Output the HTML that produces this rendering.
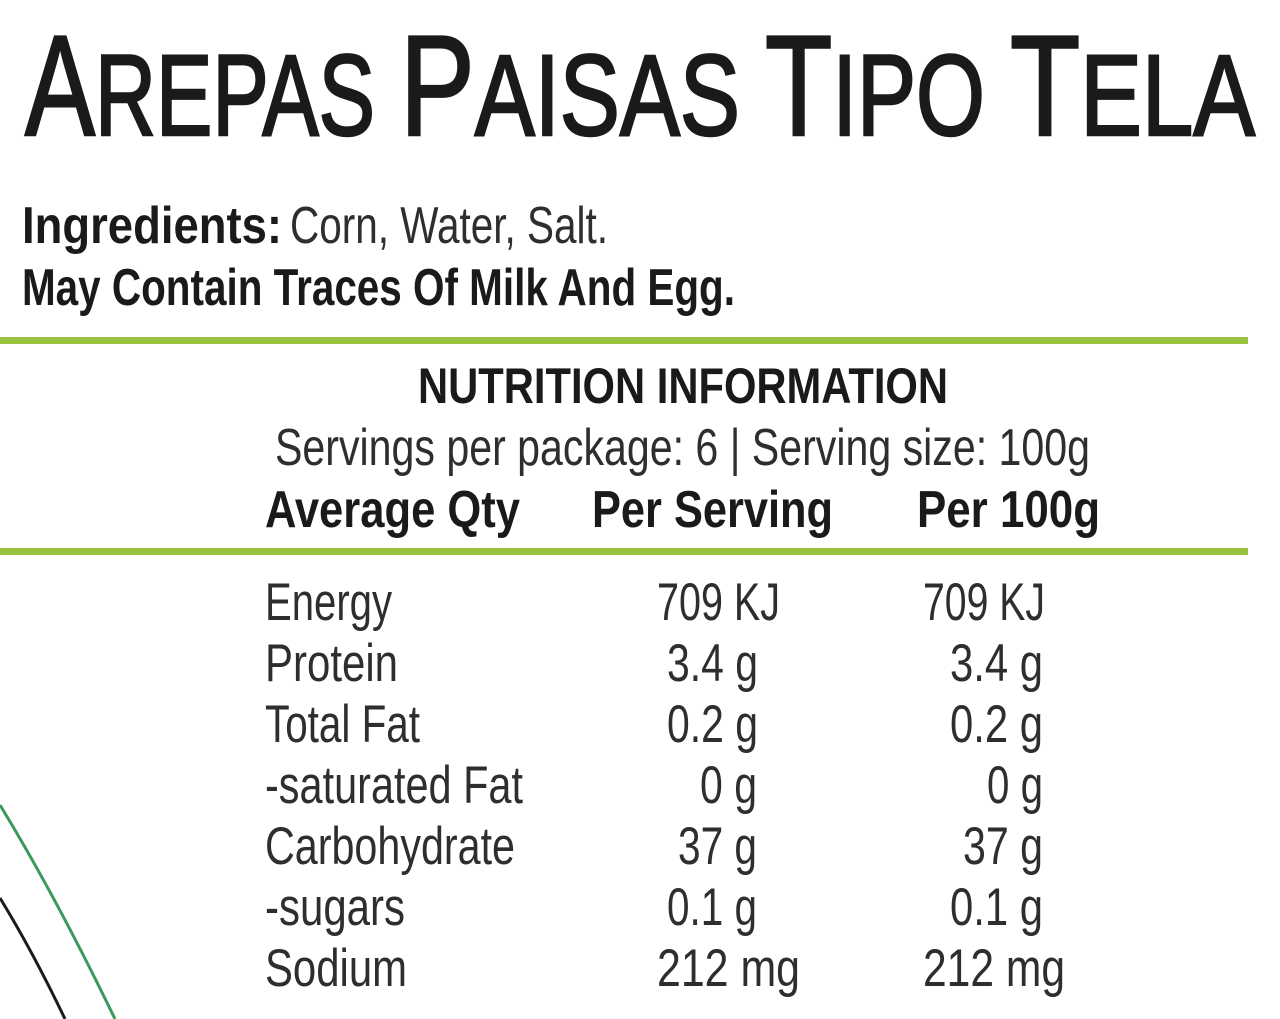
<!DOCTYPE html>
<html><head><meta charset="utf-8"><style>
html,body{margin:0;padding:0;background:#fff;width:1280px;height:1019px;overflow:hidden}
svg{display:block}
text{font-family:"Liberation Sans Narrow","Liberation Sans",sans-serif}
.b{font-weight:bold;fill:#1a1a1a}
.n{fill:#2e2e2e}
</style></head><body>
<svg width="1280" height="1019" viewBox="0 0 1280 1019" xmlns="http://www.w3.org/2000/svg">
<rect width="1280" height="1019" fill="#fff"/>
<g fill="#1a1a1a" stroke="#1a1a1a" stroke-width="2.5">
<text x="25" y="135" textLength="350" lengthAdjust="spacingAndGlyphs"><tspan font-size="143">A</tspan><tspan font-size="115">REPAS</tspan></text>
<text x="400" y="135" textLength="340" lengthAdjust="spacingAndGlyphs"><tspan font-size="143">P</tspan><tspan font-size="115">AISAS</tspan></text>
<text x="765" y="135" textLength="220" lengthAdjust="spacingAndGlyphs"><tspan font-size="143">T</tspan><tspan font-size="115">IPO</tspan></text>
<text x="1010" y="135" textLength="245" lengthAdjust="spacingAndGlyphs"><tspan font-size="143">T</tspan><tspan font-size="115">ELA</tspan></text>
</g>
<text class="b" x="22" y="243" font-size="52" textLength="260" lengthAdjust="spacingAndGlyphs">Ingredients:</text>
<text class="n" x="290" y="243" font-size="52" textLength="318" lengthAdjust="spacingAndGlyphs">Corn, Water, Salt.</text>
<text class="b" x="22" y="305" font-size="52" textLength="713" lengthAdjust="spacingAndGlyphs">May Contain Traces Of Milk And Egg.</text>
<rect x="0" y="337" width="1248" height="7" fill="#98c23e"/>
<text class="b" x="418" y="403" font-size="50" textLength="530" lengthAdjust="spacingAndGlyphs">NUTRITION INFORMATION</text>
<text class="n" x="275" y="465" font-size="52" textLength="815" lengthAdjust="spacingAndGlyphs">Servings per package: 6 | Serving size: 100g</text>
<text class="b" x="265" y="527" font-size="52" textLength="255" lengthAdjust="spacingAndGlyphs">Average Qty</text>
<text class="b" x="592" y="527" font-size="52" textLength="241" lengthAdjust="spacingAndGlyphs">Per Serving</text>
<text class="b" x="917" y="527" font-size="52" textLength="183" lengthAdjust="spacingAndGlyphs">Per 100g</text>
<rect x="0" y="548" width="1248" height="7" fill="#98c23e"/>
<g class="n" font-size="53">
<text x="265" y="620" textLength="127" lengthAdjust="spacingAndGlyphs">Energy</text>
<text x="265" y="681" textLength="133" lengthAdjust="spacingAndGlyphs">Protein</text>
<text x="265" y="742" textLength="155" lengthAdjust="spacingAndGlyphs">Total Fat</text>
<text x="265" y="803" textLength="258" lengthAdjust="spacingAndGlyphs">-saturated Fat</text>
<text x="265" y="864" textLength="250" lengthAdjust="spacingAndGlyphs">Carbohydrate</text>
<text x="265" y="925" textLength="140" lengthAdjust="spacingAndGlyphs">-sugars</text>
<text x="265" y="986" textLength="142" lengthAdjust="spacingAndGlyphs">Sodium</text>

<text x="657" y="620" textLength="123" lengthAdjust="spacingAndGlyphs">709 KJ</text>
<text x="667" y="681" textLength="91" lengthAdjust="spacingAndGlyphs">3.4 g</text>
<text x="667" y="742" textLength="91" lengthAdjust="spacingAndGlyphs">0.2 g</text>
<text x="700" y="803" textLength="57" lengthAdjust="spacingAndGlyphs">0 g</text>
<text x="678" y="864" textLength="79" lengthAdjust="spacingAndGlyphs">37 g</text>
<text x="667" y="925" textLength="90" lengthAdjust="spacingAndGlyphs">0.1 g</text>
<text x="657" y="986" textLength="143" lengthAdjust="spacingAndGlyphs">212 mg</text>

<text x="923" y="620" textLength="122" lengthAdjust="spacingAndGlyphs">709 KJ</text>
<text x="950" y="681" textLength="93" lengthAdjust="spacingAndGlyphs">3.4 g</text>
<text x="950" y="742" textLength="93" lengthAdjust="spacingAndGlyphs">0.2 g</text>
<text x="987" y="803" textLength="56" lengthAdjust="spacingAndGlyphs">0 g</text>
<text x="963" y="864" textLength="80" lengthAdjust="spacingAndGlyphs">37 g</text>
<text x="950" y="925" textLength="93" lengthAdjust="spacingAndGlyphs">0.1 g</text>
<text x="923" y="986" textLength="142" lengthAdjust="spacingAndGlyphs">212 mg</text>
</g>
<path d="M0,805 Q55,895 115,1019" fill="none" stroke="#3a9a5c" stroke-width="3"/>
<path d="M0,898 Q33,952 65,1019" fill="none" stroke="#1a1a1a" stroke-width="3"/>
</svg>
</body></html>
